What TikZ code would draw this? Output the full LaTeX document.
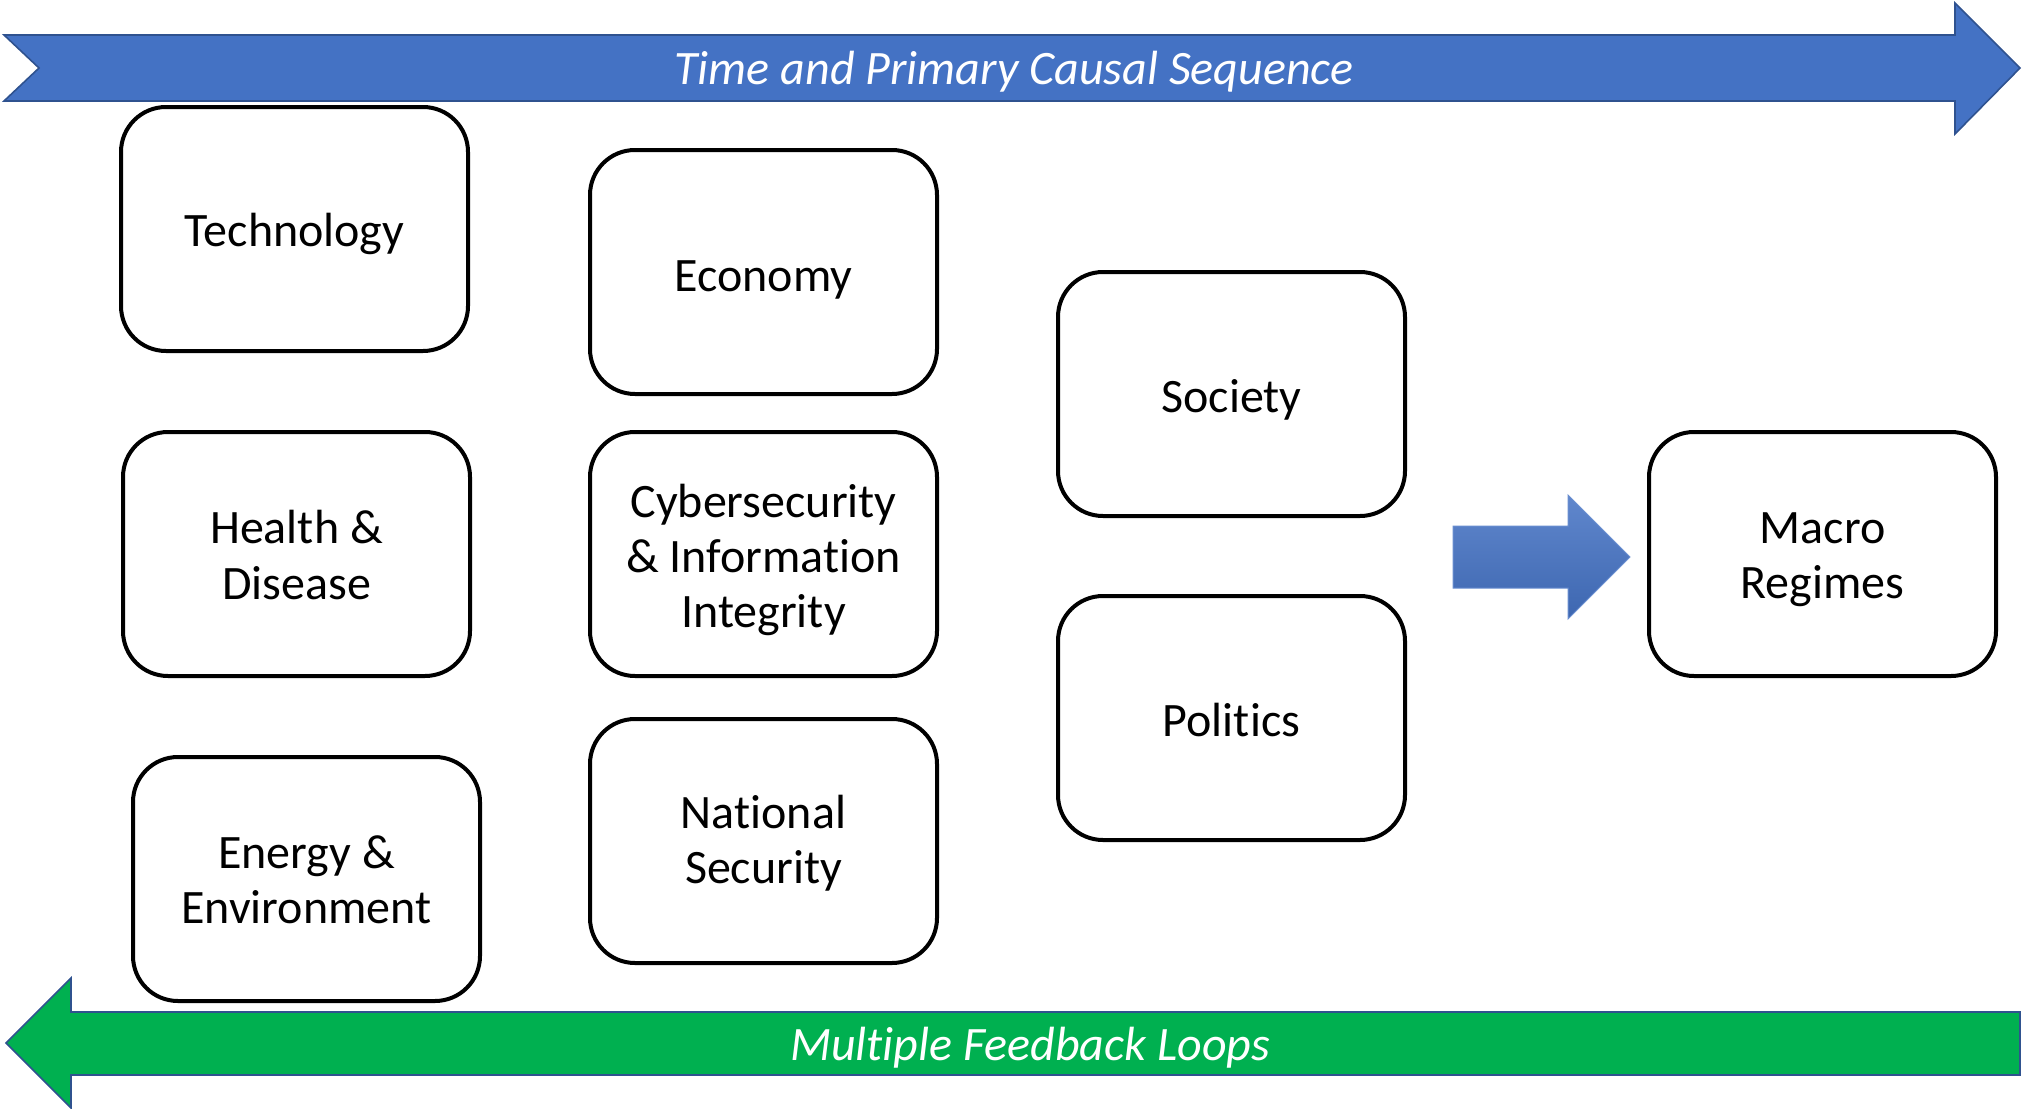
\documentclass[tikz,border=0pt]{standalone}
\usepackage{fontspec}
\setmainfont[Ligatures=NoCommon]{Carlito}
\usetikzlibrary{positioning}
\definecolor{topblue}{HTML}{4472C4}
\definecolor{edgeblue}{HTML}{2F528F}
\definecolor{loopgreen}{HTML}{00B050}
\tikzset{
  box/.style={draw=black, line width=2pt, rounded corners=22.5pt, fill=white,
    minimum width=173.5pt, minimum height=122pt, align=center,
    font=\fontsize{24}{27.7}\selectfont, inner sep=2pt},
  boxtext/.style={align=center, font=\fontsize{24}{27.7}\selectfont, inner sep=0pt},
  bandtext/.style={text=white, font=\fontsize{24}{27.7}\selectfont\itshape},
  band/.style={line width=0.8pt, draw=edgeblue, line join=miter}
}
\begin{document}
\begin{tikzpicture}[x=0.5pt, y=-0.5pt]
\useasboundingbox (0,0) rectangle (2023,1108);
% top arrow
\fill[topblue, band] (4,35) -- (1955,35) -- (1955,3) -- (2020,68) -- (1955,134) -- (1955,101) -- (4,101) -- (39,68) -- cycle;
\node[bandtext] (toptext) at (1014,72) {Time and Primary Causal Sequence};
% bottom arrow
\fill[loopgreen, band] (2020,1012) -- (71,1012) -- (71,978) -- (6,1043) -- (71,1108) -- (71,1075) -- (2020,1075) -- cycle;
\node[bandtext] (bottext) at (1030,1048) {Multiple Feedback Loops};
% boxes
\node[box] (tech) at (294.5,229) {};
\node[boxtext] (techt) at (294.5,234) {Technology};
\node[box] (econ) at (763.5,272) {};
\node[boxtext] (econt) at (763.5,280) {Economy};
\node[box] (soc) at (1231.5,394) {};
\node[boxtext] (soct) at (1231.5,400) {Society};
\node[box] (health) at (296.5,554) {};
\node[boxtext] (healtht) at (296.5,555) {Health \&\\Disease};
\node[box] (cyber) at (763.5,554) {};
\node[boxtext] (cybert) at (763.5,560) {Cybersecurity\\\& Information\\Integrity};
\node[box] (pol) at (1231.5,718) {};
\node[boxtext] (polt) at (1231.5,720) {Politics};
\node[box] (energy) at (306.5,879) {};
\node[boxtext] (energyt) at (306.5,880) {Energy \&\\Environment};
\node[box] (natsec) at (763.5,841) {};
\node[boxtext] (natsect) at (763.5,843) {National\\Security};
\node[box] (macro) at (1822.5,554) {};
\node[boxtext] (macrot) at (1822.5,560) {Macro\\Regimes};
% middle block arrow
\shade[top color=topblue!85!white, bottom color=topblue!90!black, draw=topblue!80!white, line width=0.5pt]
  (1453,526) -- (1568,526) -- (1568,495) -- (1630,557) -- (1568,619) -- (1568,588) -- (1453,588) -- cycle;
\end{tikzpicture}
\end{document}
